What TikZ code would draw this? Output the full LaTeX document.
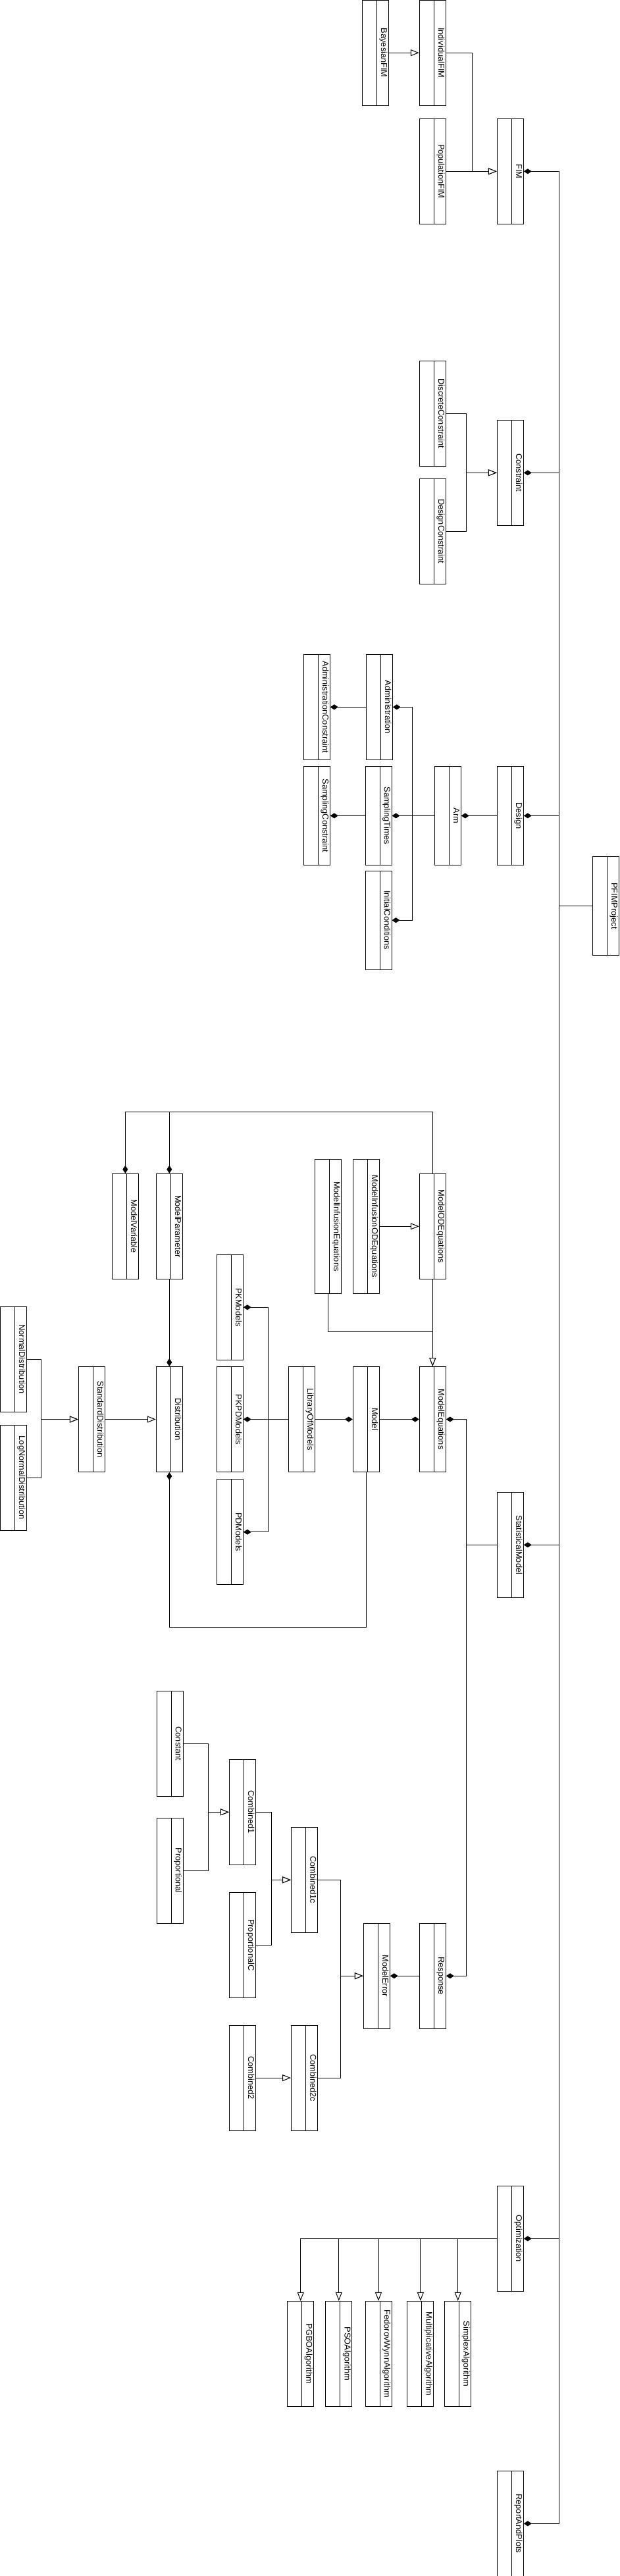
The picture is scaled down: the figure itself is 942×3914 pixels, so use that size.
\documentclass[tikz,border=0pt]{standalone}
\usepackage{fontspec}
\setmainfont{Liberation Sans}
\usepackage{tikz}
\usetikzlibrary{arrows.meta}
\tikzset{
  cls/.style={draw=black,fill=white,line width=1pt,inner sep=0pt,minimum width=40pt,minimum height=160pt,
    path picture={\draw[line width=1pt] ([xshift=22pt]path picture bounding box.north west) -- ([xshift=22pt]path picture bounding box.south west);}},
  clsname/.style={rotate=-90,inner sep=0pt,font=\fontsize{12.8}{15}\selectfont,text height=9.2pt,text depth=2.7pt},
  inherit/.style={-{Triangle[open,fill=white,length=13pt,width=10pt]},line width=1pt},
  part/.style={-{Diamond[length=12pt,width=8pt]},line width=1pt},
  link/.style={line width=1pt}
}
\begin{document}
\begin{tikzpicture}[x=1pt,y=-1pt]
  \useasboundingbox (0,0) rectangle (942,3914);
  % FIM
  \node[cls] (bayes) at (570.3,80.2) {};
  \node[clsname] (bayes-n) at ([xshift=12pt]bayes.center) {BayesianFIM};
  \node[cls] (indiv) at (657.3,80.2) {};
  \node[clsname] (indiv-n) at ([xshift=12pt]indiv.center) {IndividualFIM};
  \node[cls] (popul) at (657.3,260.3) {};
  \node[clsname] (popul-n) at ([xshift=12pt]popul.center) {PopulationFIM};
  \node[cls] (fim) at (775.3,260.3) {};
  \node[clsname] (fim-n) at ([xshift=12pt]fim.center) {FIM};
  % constraints
  \node[cls] (discr) at (657.3,628.3) {};
  \node[clsname] (discr-n) at ([xshift=12pt]discr.center) {DiscreteConstraint};
  \node[cls] (dcons) at (657.3,807.3) {};
  \node[clsname] (dcons-n) at ([xshift=12pt]dcons.center) {DesignConstraint};
  \node[cls] (cons) at (775.3,718.3) {};
  \node[clsname] (cons-n) at ([xshift=12pt]cons.center) {Constraint};
  % design
  \node[cls] (acons) at (481.3,1074.3) {};
  \node[clsname] (acons-n) at ([xshift=12pt]acons.center) {AdministrationConstraint};
  \node[cls] (admin) at (576.3,1074.3) {};
  \node[clsname] (admin-n) at ([xshift=12pt]admin.center) {Administration};
  \node[cls,minimum height=150pt] (scons) at (481.3,1239.4) {};
  \node[clsname] (scons-n) at ([xshift=12pt]scons.center) {SamplingConstraint};
  \node[cls,minimum height=150pt] (stimes) at (575,1239.4) {};
  \node[clsname] (stimes-n) at ([xshift=12pt]stimes.center) {SamplingTimes};
  \node[cls,minimum height=150pt] (init) at (575,1398.2) {};
  \node[clsname] (init-n) at ([xshift=12pt]init.center) {InitialConditions};
  \node[cls,minimum height=150pt] (arm) at (680.3,1239.4) {};
  \node[clsname] (arm-n) at ([xshift=12pt]arm.center) {Arm};
  \node[cls,minimum height=150pt] (design) at (775.3,1239.4) {};
  \node[clsname] (design-n) at ([xshift=12pt]design.center) {Design};
  \node[cls,minimum height=150pt] (proj) at (920.3,1376.4) {};
  \node[clsname] (proj-n) at ([xshift=12pt]proj.center) {PFIMProject};
  % model
  \node[cls] (mvar) at (190.3,1863.3) {};
  \node[clsname] (mvar-n) at ([xshift=12pt]mvar.center) {ModelVariable};
  \node[cls] (mpar) at (257.3,1863.3) {};
  \node[clsname] (mpar-n) at ([xshift=12pt]mpar.center) {ModelParameter};
  \node[cls,minimum height=204pt] (infeq) at (498.7,1863.3) {};
  \node[clsname] (infeq-n) at ([xshift=12pt]infeq.center) {ModelInfusionEquations};
  \node[cls,minimum height=204pt] (infode) at (556.3,1863.3) {};
  \node[clsname] (infode-n) at ([xshift=12pt]infode.center) {ModelInfusionODEquations};
  \node[cls] (odeq) at (657.3,1863.3) {};
  \node[clsname] (odeq-n) at ([xshift=12pt]odeq.center) {ModelODEquations};
  \node[cls] (normal) at (20.3,2065.1) {};
  \node[clsname] (normal-n) at ([xshift=12pt]normal.center) {NormalDistribution};
  \node[cls] (lognormal) at (20.3,2245.1) {};
  \node[clsname] (lognormal-n) at ([xshift=12pt]lognormal.center) {LogNormalDistribution};
  \node[cls] (stdd) at (139.3,2156.5) {};
  \node[clsname] (stdd-n) at ([xshift=12pt]stdd.center) {StandardDistribution};
  \node[cls] (dist) at (257.3,2156.5) {};
  \node[clsname] (dist-n) at ([xshift=12pt]dist.center) {Distribution};
  \node[cls] (pk) at (349.3,1986.3) {};
  \node[clsname] (pk-n) at ([xshift=12pt]pk.center) {PKModels};
  \node[cls] (pkpd) at (349.3,2156.5) {};
  \node[clsname] (pkpd-n) at ([xshift=12pt]pkpd.center) {PKPDModels};
  \node[cls] (pd) at (349.3,2327.7) {};
  \node[clsname] (pd-n) at ([xshift=12pt]pd.center) {PDModels};
  \node[cls] (lib) at (458.3,2156.5) {};
  \node[clsname] (lib-n) at ([xshift=12pt]lib.center) {LibraryOfModels};
  \node[cls] (model) at (556.3,2156.5) {};
  \node[clsname] (model-n) at ([xshift=12pt]model.center) {Model};
  \node[cls] (meq) at (657.3,2156.5) {};
  \node[clsname] (meq-n) at ([xshift=12pt]meq.center) {ModelEquations};
  \node[cls] (stat) at (775.3,2347.3) {};
  \node[clsname] (stat-n) at ([xshift=12pt]stat.center) {StatisticalModel};
  % errors
  \node[cls] (const) at (258,2649.2) {};
  \node[clsname] (const-n) at ([xshift=12pt]const.center) {Constant};
  \node[cls] (prop) at (258,2842.3) {};
  \node[clsname] (prop-n) at ([xshift=12pt]prop.center) {Proportional};
  \node[cls] (comb1) at (368.4,2753.3) {};
  \node[clsname] (comb1-n) at ([xshift=12pt]comb1.center) {Combined1};
  \node[cls] (propc) at (368.4,2955.2) {};
  \node[clsname] (propc-n) at ([xshift=12pt]propc.center) {ProportionalC};
  \node[cls] (comb1c) at (462.5,2856.3) {};
  \node[clsname] (comb1c-n) at ([xshift=12pt]comb1c.center) {Combined1c};
  \node[cls] (comb2) at (368.4,3157.1) {};
  \node[clsname] (comb2-n) at ([xshift=12pt]comb2.center) {Combined2};
  \node[cls] (comb2c) at (462.5,3157.1) {};
  \node[clsname] (comb2c-n) at ([xshift=12pt]comb2c.center) {Combined2c};
  \node[cls] (merr) at (572.3,3002.2) {};
  \node[clsname] (merr-n) at ([xshift=12pt]merr.center) {ModelError};
  \node[cls] (resp) at (657.3,3002.2) {};
  \node[clsname] (resp-n) at ([xshift=12pt]resp.center) {Response};
  % optimization
  \node[cls] (opt) at (775.3,3401.4) {};
  \node[clsname] (opt-n) at ([xshift=12pt]opt.center) {Optimization};
  \node[cls] (pgbo) at (456.7,3576.4) {};
  \node[clsname] (pgbo-n) at ([xshift=12pt]pgbo.center) {PGBOAlgorithm};
  \node[cls] (pso) at (514.8,3576.4) {};
  \node[clsname] (pso-n) at ([xshift=12pt]pso.center) {PSOAlgorithm};
  \node[cls] (fw) at (575,3576.4) {};
  \node[clsname] (fw-n) at ([xshift=12pt]fw.center) {FedorovWynnAlgorithm};
  \node[cls] (mult) at (638.9,3576.4) {};
  \node[clsname] (mult-n) at ([xshift=12pt]mult.center) {MultiplicativeAlgorithm};
  \node[cls] (simplex) at (695.7,3576.4) {};
  \node[clsname] (simplex-n) at ([xshift=12pt]simplex.center) {SimplexAlgorithm};
  \node[cls] (report) at (775.3,3834.3) {};
  \node[clsname] (report-n) at ([xshift=12pt]report.center) {ReportAndPlots};

  % project spine
  \draw[link] (proj.west) -- ++(-50,0);
  \draw[part] (proj.west) -- ++(-50,0) |- (fim.east);
  \draw[part] (proj.west) -- ++(-50,0) |- (cons.east);
  \draw[part] (proj.west) -- ++(-50,0) |- (design.east);
  \draw[part] (proj.west) -- ++(-50,0) |- (stat.east);
  \draw[part] (proj.west) -- ++(-50,0) |- (opt.east);
  \draw[part] (proj.west) -- ++(-50,0) |- (report.east);
  % FIM and constraints
  \draw[inherit] (bayes) -- (indiv);
  \draw[inherit] (indiv.east) -- ++(40,0) |- (fim.west);
  \draw[inherit] (popul) -- (fim);
  \draw[inherit] (discr.east) -- ++(31,0) |- (cons.west);
  \draw[inherit] (dcons.east) -- ++(31,0) |- (cons.west);
  % design
  \draw[part] (design) -- (arm);
  \draw[part] (arm.west) -- ++(-33,0) |- (admin.east);
  \draw[part] (arm) -- (stimes);
  \draw[part] (arm.west) -- ++(-33,0) |- (init.east);
  \draw[part] (admin) -- (acons);
  \draw[part] (stimes) -- (scons);
  % model
  \draw[part] (odeq.north) -- ++(0,-93) -| (mvar.north);
  \draw[part] (odeq.north) -- ++(0,-93) -| (mpar.north);
  \draw[inherit] (infode) -- (odeq);
  \draw[inherit] (odeq) -- (meq);
  \draw[inherit] (infeq.south) -- ++(0,58) -| (meq.north);
  \draw[part] (mpar) -- (dist);
  \draw[inherit] (normal.east) -- ++(22,0) |- (stdd.west);
  \draw[inherit] (lognormal.east) -- ++(22,0) |- (stdd.west);
  \draw[inherit] (stdd) -- (dist);
  \draw[part] (lib.west) -- ++(-30,0) |- (pk.east);
  \draw[part] (lib) -- (pkpd);
  \draw[part] (lib.west) -- ++(-30,0) |- (pd.east);
  \draw[part] (lib) -- (model);
  \draw[part] (model) -- (meq);
  \draw[part] (model.south) -- ++(0,235) -| (dist.south);
  \draw[part] (stat.west) -- ++(-46,0) |- (meq.east);
  \draw[part] (stat.west) -- ++(-46,0) |- (resp.east);
  % errors
  \draw[part] (resp) -- (merr);
  \draw[inherit] (const.east) -- ++(37.6,0) |- (comb1.west);
  \draw[inherit] (prop.east) -- ++(37.6,0) |- (comb1.west);
  \draw[inherit] (comb1.east) -- ++(24,0) |- (comb1c.west);
  \draw[inherit] (propc.east) -- ++(24,0) |- (comb1c.west);
  \draw[inherit] (comb2) -- (comb2c);
  \draw[inherit] (comb1c.east) -- ++(34.7,0) |- (merr.west);
  \draw[inherit] (comb2c.east) -- ++(34.7,0) |- (merr.west);
  % optimization
  \draw[inherit] (opt.west) -| (pgbo.north);
  \draw[inherit] (opt.west) -| (pso.north);
  \draw[inherit] (opt.west) -| (fw.north);
  \draw[inherit] (opt.west) -| (mult.north);
  \draw[inherit] (opt.west) -| (simplex.north);
\end{tikzpicture}
\end{document}
